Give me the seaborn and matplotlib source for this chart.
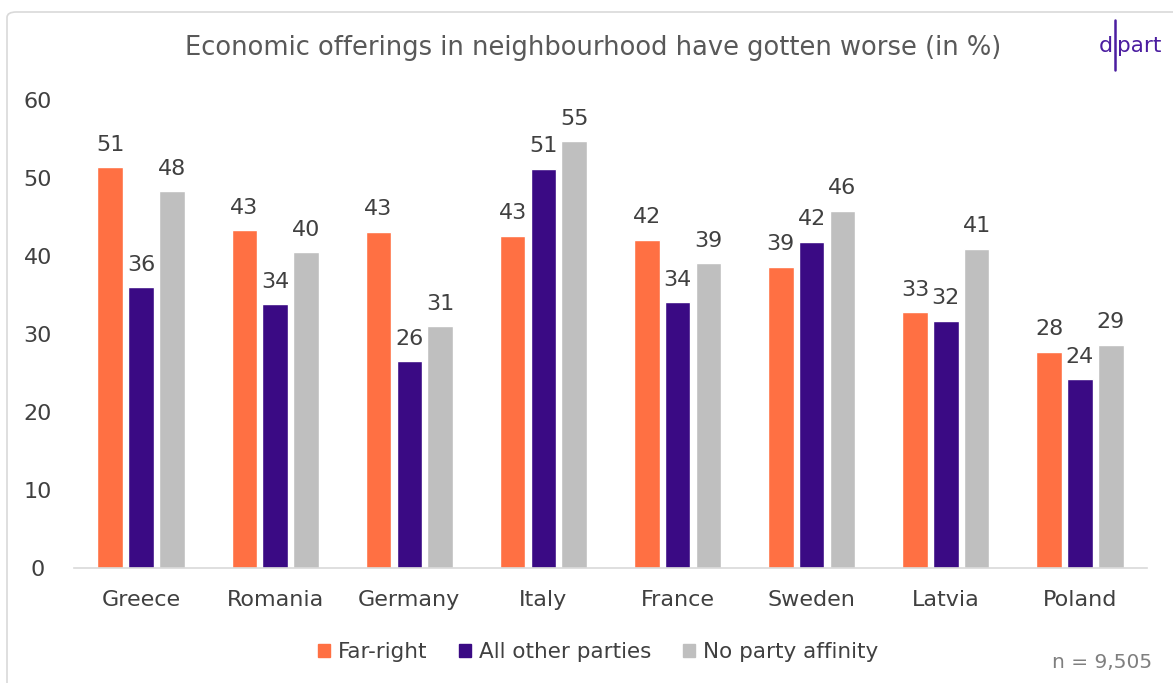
import matplotlib
matplotlib.use("Agg")
import matplotlib.pyplot as plt
from matplotlib.patches import FancyBboxPatch
from matplotlib.lines import Line2D
import seaborn as sns
import pandas as pd

countries = ["Greece", "Romania", "Germany", "Italy", "France", "Sweden", "Latvia", "Poland"]
far_right = [51.4, 43.3, 43.1, 42.6, 42.1, 38.6, 32.8, 27.7]
all_other = [36.0, 33.8, 26.5, 51.2, 34.1, 41.8, 31.7, 24.2]
no_party = [48.3, 40.5, 31.0, 54.7, 39.1, 45.8, 40.9, 28.6]
groups = ["Far-right", "All other parties", "No party affinity"]
colors = ["#FF7043", "#3A0A84", "#BFBFBF"]
yticks = [0, 10, 20, 30, 40, 50, 60]

df = pd.DataFrame({
    "country": countries * 3,
    "group": [groups[0]] * 8 + [groups[1]] * 8 + [groups[2]] * 8,
    "value": far_right + all_other + no_party,
})

sns.set_theme(style="white")
plt.rcParams["font.family"] = ["DejaVu Sans"]

fig = plt.figure(figsize=(11.73, 6.83), dpi=100)
ax = fig.add_axes([74 / 1173, 1 - 568 / 683, (1147 - 74) / 1173, 468 / 683])

sns.barplot(data=df, x="country", y="value", hue="group", palette=colors,
            width=0.69, gap=0.17, ax=ax, legend=False, saturation=1)

for cont in ax.containers:
    ax.bar_label(cont, labels=[f"{v:.0f}" for v in cont.datavalues],
                 padding=9, fontsize=16, color="#404040")

ax.set_ylim(0, 60)
ax.set_xlim(-0.5, 7.5)
ax.set_yticks(yticks)
ax.set_yticklabels([str(t) for t in yticks])
ax.tick_params(axis="y", labelsize=16, labelcolor="#404040", pad=26, length=0)
ax.tick_params(axis="x", labelsize=16, labelcolor="#404040", pad=16, length=0)
for lab in ax.get_yticklabels():
    lab.set_horizontalalignment("center")
ax.set_xlabel("")
ax.set_ylabel("")
for s in ["top", "right", "left"]:
    ax.spines[s].set_visible(False)
ax.spines["bottom"].set_color("#D9D9D9")
ax.spines["bottom"].set_linewidth(1.2)

fig.text(593 / 1173, 1 - 48 / 683, "Economic offerings in neighbourhood have gotten worse (in %)",
         ha="center", va="center", fontsize=18.5, color="#595959")

handles = [plt.Rectangle((0, 0), 1, 1, color=c) for c in colors]
fig.legend(handles, groups, loc="center", bbox_to_anchor=(598 / 1173, 1 - 652 / 683),
           ncol=3, frameon=False, fontsize=15.5, labelcolor="#404040",
           handlelength=0.55, handleheight=0.55, handletextpad=0.35, columnspacing=1.5)

fig.text(1152 / 1173, 1 - 662 / 683, "n = 9,505", ha="right", va="center",
         fontsize=14.5, color="#7F7F7F")

# frame around the chart area
frame = FancyBboxPatch((7 / 1173, -0.05), 1.2, 1 - 12 / 683 + 0.05,
                       boxstyle="round,pad=0,rounding_size=0.008",
                       transform=fig.transFigure, fill=False,
                       edgecolor="#D9D9D9", linewidth=1.2)
fig.patches.append(frame)

# logo
logo_color = "#4B1DA0"
fig.text(1113 / 1173, 1 - 52 / 683, "d", ha="right", va="baseline",
         fontsize=16, color=logo_color, fontweight="medium")
fig.text(1117 / 1173, 1 - 52 / 683, "part", ha="left", va="baseline",
         fontsize=15.5, color=logo_color, fontweight="medium")
fig.add_artist(Line2D([1115 / 1173, 1115 / 1173], [1 - 20 / 683, 1 - 70 / 683],
                      transform=fig.transFigure, color=logo_color, linewidth=1.8))

fig.savefig("out.png", dpi=100)
